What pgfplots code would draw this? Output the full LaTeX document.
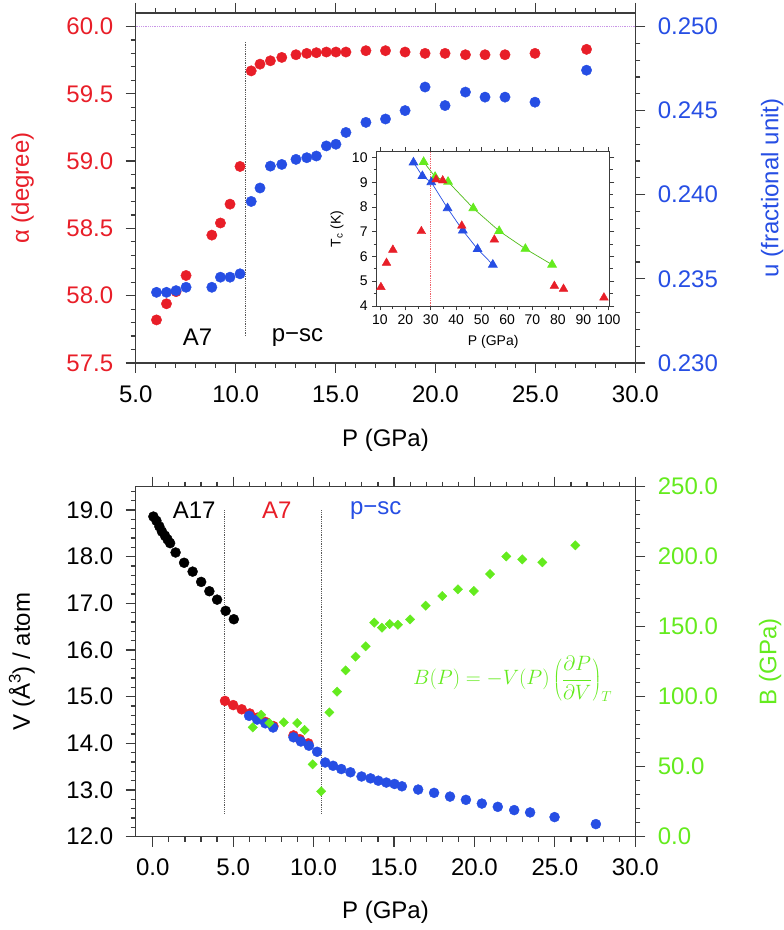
\documentclass[border=0pt]{standalone}
\usepackage{pgfplots}
\pgfplotsset{compat=1.18}
\usepackage{fontspec}
\setmainfont{Liberation Sans}
\definecolor{cred}{RGB}{232,30,40}
\definecolor{cblue}{RGB}{38,78,228}
\definecolor{cgreen}{RGB}{100,235,30}
\definecolor{cpurp}{RGB}{200,150,230}
\definecolor{cax}{RGB}{60,60,60}
\pgfplotsset{
  mainax/.style={scale only axis, width=499.6pt, height=350pt,
    font=\fontsize{24}{28.8}\selectfont,
    tick align=outside, major tick length=10pt, minor tick length=5pt,
    axis line style={draw=cax, line width=1.2pt},
    tick style={draw=cax, line width=1.2pt},
    /pgf/number format/assume math mode=true,
    xticklabel shift=9pt, yticklabel shift=9pt,
    xticklabel style={/pgf/number format/fixed, /pgf/number format/fixed zerofill, /pgf/number format/precision=1}},
}
\tikzset{tk/.style={draw=cax, line width=1.1pt}, tki/.style={draw=cax, line width=0.8pt}}
\begin{document}
\begin{tikzpicture}
\path[use as bounding box] (0pt,0pt) rectangle (784pt,930pt);
%================ TOP PANEL =================
\begin{axis}[mainax, at={(135.7pt,567pt)}, anchor=south west,
  xmin=5, xmax=30, ymin=57.5, ymax=60.1,
  xtick={5,10,15,20,25,30}, minor x tick num=4,
  ytick={57.5,58,58.5,59,59.5,60}, minor y tick num=4,
  ytick pos=left,
  yticklabel style={text=cred, /pgf/number format/fixed, /pgf/number format/fixed zerofill, /pgf/number format/precision=1},
  xlabel={P (GPa)}, ylabel={α (degree)},
  xlabel style={at={(axis description cs:0.5,-0.22)}, anchor=center},
  ylabel style={at={(axis description cs:-0.226,0.5)}, anchor=center, text=cred},
]
\addplot[cpurp, densely dotted, line width=0.8pt] coordinates {(5,60) (30,60)};
\addplot[black!65, densely dotted, line width=0.8pt] coordinates {(10.5,57.7) (10.5,59.89)};
\addplot[only marks, mark=*, mark size=5.2pt, mark options={draw=cred, fill=cred}] table {
6.04 57.82
6.54 57.94
7.02 58.03
7.52 58.15
8.81 58.45
9.24 58.54
9.72 58.68
10.22 58.96
10.78 59.67
11.22 59.72
11.74 59.745
12.31 59.77
13.02 59.79
13.56 59.80
14.04 59.805
14.54 59.81
15.02 59.81
15.52 59.81
16.52 59.82
17.50 59.82
18.48 59.81
19.48 59.80
20.48 59.80
21.50 59.79
22.48 59.79
23.48 59.79
24.98 59.80
27.56 59.83
};
\node at (axis cs:8.1,57.69) {A7};
\node at (axis cs:13.1,57.69) {p−sc};
\end{axis}
\begin{axis}[mainax, at={(135.7pt,567pt)}, anchor=south west,
  xmin=5, xmax=30, ymin=0.23, ymax=0.2508,
  axis x line=none, axis y line*=right,
  ytick={0.23,0.235,0.24,0.245,0.25}, minor y tick num=4,
  yticklabel style={text=cblue, /pgf/number format/fixed, /pgf/number format/fixed zerofill, /pgf/number format/precision=3},
  ylabel={u (fractional unit)},
  ylabel style={at={(axis description cs:1.274,0.5)}, anchor=center, text=cblue},
]
\addplot[only marks, mark=*, mark size=5.2pt, mark options={draw=cblue, fill=cblue}] table {
6.04 0.2342
6.54 0.2342
7.02 0.2343
7.52 0.2345
8.81 0.2345
9.24 0.2351
9.72 0.2351
10.22 0.2353
10.78 0.2396
11.22 0.2404
11.74 0.2417
12.31 0.2418
13.02 0.2421
13.56 0.2422
14.04 0.2423
14.54 0.2429
15.02 0.2430
15.52 0.2437
16.52 0.2443
17.50 0.2445
18.48 0.2450
19.48 0.2464
20.48 0.2453
21.50 0.2461
22.48 0.2458
23.48 0.2458
24.98 0.2455
27.56 0.2474
};
\end{axis}
%================ INSET =================
\begin{axis}[scale only axis, at={(376.6pt,624pt)}, anchor=south west,
  width=233.2pt, height=154.2pt,
  font=\fontsize{14}{16.8}\selectfont,
  axis background/.style={fill=white},
  xmin=8.7, xmax=100.4, ymin=4, ymax=10.23,
  xtick={10,20,...,100}, ytick={4,5,...,10},
  minor x tick num=1, minor y tick num=1,
  tick align=outside, major tick length=4.5pt, minor tick length=3pt,
  axis line style={draw=cax, line width=0.8pt},
  tick style={draw=cax, line width=0.8pt},
  /pgf/number format/assume math mode=true,
  xticklabel shift=1pt, yticklabel shift=1pt,
  xlabel={P (GPa)}, ylabel={T\textsubscript{c} (K)},
  xlabel style={at={(axis description cs:0.5,-0.233)}, anchor=center},
  ylabel style={at={(axis description cs:-0.17,0.5)}, anchor=center},
]
\addplot[cred!70, densely dotted, line width=0.8pt] coordinates {(30,4) (30,10.23)};
\addplot[cgreen!80!black, line width=0.7pt, mark=triangle*, mark size=5pt, mark options={draw=cgreen, fill=cgreen}] table {
27.2 9.82
31.7 9.22
36.8 9.02
46.7 7.95
56.9 7.03
67.2 6.31
77.7 5.67
};
\addplot[cblue, line width=0.7pt, mark=triangle*, mark size=5pt, mark options={draw=cblue, fill=cblue}] table {
23.2 9.80
26.7 9.25
30.2 9.00
36.6 7.95
42.6 7.05
48.4 6.30
54.4 5.67
};
\addplot[only marks, mark=triangle*, mark size=5pt, mark options={draw=cred, fill=cred}] table {
10.4 4.76
12.6 5.74
15.1 6.27
26.3 7.02
32.1 9.11
34.7 9.07
42.2 7.24
55.0 6.68
78.6 4.81
82.2 4.69
98.1 4.34
};
\end{axis}
%================ BOTTOM PANEL =================
\begin{axis}[mainax, at={(135.7pt,93.3pt)}, anchor=south west,
  xmin=-1.06, xmax=30, ymin=12, ymax=19.5,
  xtick={0,5,10,15,20,25,30}, minor x tick num=4,
  ytick={12,13,14,15,16,17,18,19}, minor y tick num=4,
  ytick pos=left,
  yticklabel style={/pgf/number format/fixed, /pgf/number format/fixed zerofill, /pgf/number format/precision=1},
  xlabel={P (GPa)}, ylabel={V (Å\textsuperscript{3}) / atom},
  xlabel style={at={(axis description cs:0.5,-0.215)}, anchor=center},
  ylabel style={at={(axis description cs:-0.228,0.5)}, anchor=center},
]
\addplot[black!65, densely dotted, line width=0.8pt] coordinates {(4.44,12.5) (4.44,19.0)};
\addplot[black!65, densely dotted, line width=0.8pt] coordinates {(10.47,12.5) (10.47,19.0)};
\addplot[only marks, mark=*, mark size=5pt, mark options={draw=black, fill=black}] table {
0.04 18.86
0.23 18.77
0.41 18.65
0.57 18.54
0.76 18.45
0.92 18.37
1.08 18.29
1.42 18.09
1.95 17.87
2.48 17.68
3.01 17.46
3.52 17.26
4.00 17.08
4.53 16.84
5.04 16.66
};
\addplot[only marks, mark=*, mark size=5pt, mark options={draw=cred, fill=cred}] table {
4.49 14.91
5.00 14.82
5.53 14.73
6.03 14.64
6.50 14.55
7.00 14.46
7.50 14.37
8.75 14.17
9.14 14.09
9.67 14.00
};
\addplot[only marks, mark=*, mark size=5pt, mark options={draw=cblue, fill=cblue}] table {
5.99 14.59
6.49 14.51
7.00 14.43
7.48 14.34
8.75 14.13
9.21 14.04
9.71 13.95
10.22 13.82
10.72 13.59
11.21 13.52
11.72 13.45
12.29 13.38
12.98 13.29
13.54 13.25
14.02 13.20
14.52 13.16
15.03 13.13
15.49 13.08
16.50 13.01
17.49 12.94
18.48 12.86
19.47 12.79
20.46 12.71
21.45 12.64
22.47 12.57
23.46 12.52
24.98 12.42
27.55 12.27
};
\node at (axis cs:2.58,19.0) {A17};
\node[text=cred] at (axis cs:7.71,19.0) {A7};
\node[text=cblue] at (axis cs:13.86,19.0) {p−sc};
\node[text=cgreen] at (axis cs:22.37,15.38) {\fontsize{20}{24}\selectfont $\displaystyle B(P)=-V(P)\left(\frac{\partial P}{\partial V}\right)_{T}$};
\end{axis}
\begin{axis}[mainax, at={(135.7pt,93.3pt)}, anchor=south west,
  xmin=-1.06, xmax=30, ymin=0, ymax=250,
  axis x line=none, axis y line*=right,
  ytick={0,50,100,150,200,250}, minor y tick num=4,
  yticklabel style={text=cgreen, /pgf/number format/fixed, /pgf/number format/fixed zerofill, /pgf/number format/precision=1},
  ylabel={B (GPa)},
  ylabel style={at={(axis description cs:1.27,0.5)}, anchor=center, text=cgreen},
]
\addplot[only marks, mark=square*, mark size=3.3pt, mark options={rotate=45, draw=cgreen, fill=cgreen}] table {
6.22 78.1
6.74 87.1
7.25 81.2
8.15 81.7
8.98 81.2
9.44 76.2
9.94 51.7
10.47 32.4
10.98 88.8
11.46 103.6
11.99 118.8
12.61 128.6
13.24 136.0
13.77 152.9
14.25 149.3
14.73 151.9
15.24 151.4
16.00 155.2
16.97 165.0
18.00 171.9
18.97 176.7
19.96 175.5
20.97 187.6
21.98 200.2
22.97 198.1
24.22 196.0
26.27 208.1
};
\end{axis}
%================ TICK MARKS (axis decoration) =================
\begin{scope}[x=1pt, y=1pt]
% top panel: x ticks bottom and top
\foreach \k in {0,...,25} {
  \pgfmathsetmacro\xx{135.7+\k*19.984}
  \draw[tk] (\xx,567) -- ++(0,-5);
  \draw[tk] (\xx,917) -- ++(0,5);
}
\foreach \k in {0,5,...,25} {
  \pgfmathsetmacro\xx{135.7+\k*19.984}
  \draw[tk] (\xx,567) -- ++(0,-10);
  \draw[tk] (\xx,917) -- ++(0,10);
}
% top panel: left alpha ticks
\foreach \k in {0,...,25} {
  \pgfmathsetmacro\yy{567+\k*13.4615}
  \draw[tk] (135.7,\yy) -- ++(-5,0);
}
\foreach \k in {0,5,...,25} {
  \pgfmathsetmacro\yy{567+\k*13.4615}
  \draw[tk] (135.7,\yy) -- ++(-10,0);
}
% top panel: right u ticks
\foreach \k in {0,...,20} {
  \pgfmathsetmacro\yy{567+\k*16.827}
  \draw[tk] (635.3,\yy) -- ++(5,0);
}
\foreach \k in {0,5,...,20} {
  \pgfmathsetmacro\yy{567+\k*16.827}
  \draw[tk] (635.3,\yy) -- ++(10,0);
}
% bottom panel: x ticks bottom and top
\foreach \k in {0,...,30} {
  \pgfmathsetmacro\xx{152.75+\k*16.085}
  \draw[tk] (\xx,93.3) -- ++(0,-5);
  \draw[tk] (\xx,443.3) -- ++(0,5);
}
\foreach \k in {0,5,...,30} {
  \pgfmathsetmacro\xx{152.75+\k*16.085}
  \draw[tk] (\xx,93.3) -- ++(0,-10);
  \draw[tk] (\xx,443.3) -- ++(0,10);
}
% bottom panel: left V ticks
\foreach \k in {0,...,37} {
  \pgfmathsetmacro\yy{93.3+\k*9.3333}
  \draw[tk] (135.7,\yy) -- ++(-5,0);
}
\foreach \k in {0,5,...,35} {
  \pgfmathsetmacro\yy{93.3+\k*9.3333}
  \draw[tk] (135.7,\yy) -- ++(-10,0);
}
% bottom panel: right B ticks
\foreach \k in {0,...,25} {
  \pgfmathsetmacro\yy{93.3+\k*14}
  \draw[tk] (635.3,\yy) -- ++(5,0);
}
\foreach \k in {0,5,...,25} {
  \pgfmathsetmacro\yy{93.3+\k*14}
  \draw[tk] (635.3,\yy) -- ++(10,0);
}
% inset ticks, all four sides
\foreach \k in {0,...,18} {
  \pgfmathsetmacro\xx{376.6+(10+5*\k-8.7)*2.5431}
  \draw[tki] (\xx,624) -- ++(0,-3);
  \draw[tki] (\xx,778.2) -- ++(0,3);
}
\foreach \k in {0,...,9} {
  \pgfmathsetmacro\xx{376.6+(10+10*\k-8.7)*2.5431}
  \draw[tki] (\xx,624) -- ++(0,-4.5);
  \draw[tki] (\xx,778.2) -- ++(0,4.5);
}
\foreach \k in {0,...,12} {
  \pgfmathsetmacro\yy{624+\k*0.5*24.751}
  \draw[tki] (376.6,\yy) -- ++(-3,0);
  \draw[tki] (609.8,\yy) -- ++(3,0);
}
\foreach \k in {0,...,6} {
  \pgfmathsetmacro\yy{624+\k*24.751}
  \draw[tki] (376.6,\yy) -- ++(-4.5,0);
  \draw[tki] (609.8,\yy) -- ++(4.5,0);
}
\end{scope}
\end{tikzpicture}
\end{document}
